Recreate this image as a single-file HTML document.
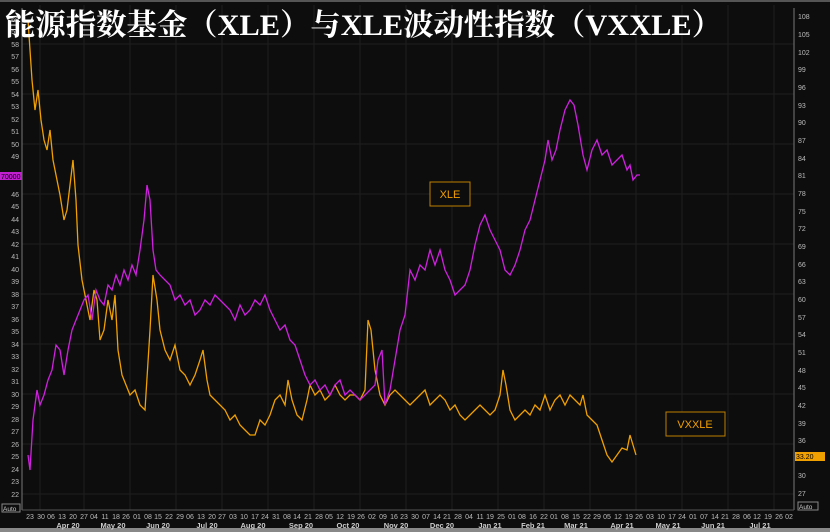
<!DOCTYPE html><html><head><meta charset="utf-8"><style>
body{margin:0;background:#0b0b0b;}
svg{display:block;font-family:"Liberation Sans",sans-serif;}
</style></head><body>
<svg width="830" height="532" xmlns="http://www.w3.org/2000/svg">
<rect width="830" height="532" fill="#0d0d0d"/>
<rect x="0" y="0" width="830" height="2" fill="#555"/>
<rect x="0" y="528" width="830" height="4" fill="#888"/>
<g stroke="#1f1f1f" stroke-width="1">
<line x1="22" y1="44" x2="794" y2="44"/><line x1="22" y1="94" x2="794" y2="94"/><line x1="22" y1="144" x2="794" y2="144"/><line x1="22" y1="194" x2="794" y2="194"/><line x1="22" y1="244" x2="794" y2="244"/><line x1="22" y1="294" x2="794" y2="294"/><line x1="22" y1="344" x2="794" y2="344"/><line x1="22" y1="394" x2="794" y2="394"/><line x1="22" y1="444" x2="794" y2="444"/><line x1="22" y1="494" x2="794" y2="494"/>
<line x1="40" y1="5" x2="40" y2="510"/><line x1="84" y1="5" x2="84" y2="510"/><line x1="130" y1="5" x2="130" y2="510"/><line x1="176" y1="5" x2="176" y2="510"/><line x1="222" y1="5" x2="222" y2="510"/><line x1="268" y1="5" x2="268" y2="510"/><line x1="314" y1="5" x2="314" y2="510"/><line x1="360" y1="5" x2="360" y2="510"/><line x1="406" y1="5" x2="406" y2="510"/><line x1="452" y1="5" x2="452" y2="510"/><line x1="498" y1="5" x2="498" y2="510"/><line x1="544" y1="5" x2="544" y2="510"/><line x1="590" y1="5" x2="590" y2="510"/><line x1="636" y1="5" x2="636" y2="510"/><line x1="682" y1="5" x2="682" y2="510"/><line x1="728" y1="5" x2="728" y2="510"/><line x1="774" y1="5" x2="774" y2="510"/>
</g>
<line x1="22" y1="8" x2="22" y2="510" stroke="#777"/>
<line x1="794" y1="8" x2="794" y2="510" stroke="#777"/>
<line x1="22" y1="510" x2="794" y2="510" stroke="#555"/>
<g fill="#bbb" font-size="7" text-anchor="end">
<text x="19" y="22">60</text><text x="19" y="34">59</text><text x="19" y="47">58</text><text x="19" y="59">57</text><text x="19" y="72">56</text><text x="19" y="84">55</text><text x="19" y="97">54</text><text x="19" y="109">53</text><text x="19" y="122">52</text><text x="19" y="134">51</text><text x="19" y="147">50</text><text x="19" y="159">49</text><text x="19" y="197">46</text><text x="19" y="209">45</text><text x="19" y="222">44</text><text x="19" y="234">43</text><text x="19" y="247">42</text><text x="19" y="259">41</text><text x="19" y="272">40</text><text x="19" y="284">39</text><text x="19" y="297">38</text><text x="19" y="309">37</text><text x="19" y="322">36</text><text x="19" y="334">35</text><text x="19" y="347">34</text><text x="19" y="359">33</text><text x="19" y="372">32</text><text x="19" y="384">31</text><text x="19" y="397">30</text><text x="19" y="409">29</text><text x="19" y="422">28</text><text x="19" y="434">27</text><text x="19" y="447">26</text><text x="19" y="459">25</text><text x="19" y="472">24</text><text x="19" y="484">23</text><text x="19" y="497">22</text>
</g>
<g fill="#bbb" font-size="7">
<text x="798" y="19">108</text><text x="798" y="37">105</text><text x="798" y="55">102</text><text x="798" y="72">99</text><text x="798" y="90">96</text><text x="798" y="108">93</text><text x="798" y="125">90</text><text x="798" y="143">87</text><text x="798" y="161">84</text><text x="798" y="178">81</text><text x="798" y="196">78</text><text x="798" y="214">75</text><text x="798" y="231">72</text><text x="798" y="249">69</text><text x="798" y="267">66</text><text x="798" y="284">63</text><text x="798" y="302">60</text><text x="798" y="320">57</text><text x="798" y="337">54</text><text x="798" y="355">51</text><text x="798" y="373">48</text><text x="798" y="390">45</text><text x="798" y="408">42</text><text x="798" y="426">39</text><text x="798" y="443">36</text><text x="798" y="478">30</text><text x="798" y="496">27</text>
</g>
<rect x="0" y="172" width="22" height="8" fill="#c020d0"/><text x="1" y="179" font-size="7" fill="#000">70000</text>
<rect x="795" y="452" width="30" height="9" fill="#f0a000"/><text x="796" y="459" font-size="7" fill="#000">33.20</text>
<rect x="2" y="504" width="18" height="8" fill="none" stroke="#888"/><text x="3" y="511" font-size="6.5" fill="#ccc">Auto</text>
<rect x="798" y="502" width="20" height="8" fill="none" stroke="#888"/><text x="799" y="509" font-size="6.5" fill="#ccc">Auto</text>
<g fill="#bbb" font-size="7" text-anchor="middle">
<text x="30" y="519">23</text><text x="41" y="519">30</text><text x="51" y="519">06</text><text x="62" y="519">13</text><text x="73" y="519">20</text><text x="84" y="519">27</text><text x="94" y="519">04</text><text x="105" y="519">11</text><text x="116" y="519">18</text><text x="126" y="519">26</text><text x="137" y="519">01</text><text x="148" y="519">08</text><text x="158" y="519">15</text><text x="169" y="519">22</text><text x="180" y="519">29</text><text x="190" y="519">06</text><text x="201" y="519">13</text><text x="212" y="519">20</text><text x="222" y="519">27</text><text x="233" y="519">03</text><text x="244" y="519">10</text><text x="255" y="519">17</text><text x="265" y="519">24</text><text x="276" y="519">31</text><text x="287" y="519">08</text><text x="297" y="519">14</text><text x="308" y="519">21</text><text x="319" y="519">28</text><text x="329" y="519">05</text><text x="340" y="519">12</text><text x="351" y="519">19</text><text x="361" y="519">26</text><text x="372" y="519">02</text><text x="383" y="519">09</text><text x="394" y="519">16</text><text x="404" y="519">23</text><text x="415" y="519">30</text><text x="426" y="519">07</text><text x="437" y="519">14</text><text x="447" y="519">21</text><text x="458" y="519">28</text><text x="469" y="519">04</text><text x="480" y="519">11</text><text x="490" y="519">19</text><text x="501" y="519">25</text><text x="512" y="519">01</text><text x="522" y="519">08</text><text x="533" y="519">16</text><text x="544" y="519">22</text><text x="554" y="519">01</text><text x="565" y="519">08</text><text x="576" y="519">15</text><text x="587" y="519">22</text><text x="597" y="519">29</text><text x="607" y="519">05</text><text x="618" y="519">12</text><text x="629" y="519">19</text><text x="639" y="519">26</text><text x="650" y="519">03</text><text x="661" y="519">10</text><text x="672" y="519">17</text><text x="682" y="519">24</text><text x="693" y="519">01</text><text x="704" y="519">07</text><text x="715" y="519">14</text><text x="725" y="519">21</text><text x="736" y="519">28</text><text x="747" y="519">06</text><text x="757" y="519">12</text><text x="768" y="519">19</text><text x="779" y="519">26</text><text x="789" y="519">02</text>
</g>
<g fill="#ccc" font-size="7.5" font-weight="bold" text-anchor="middle">
<text x="68" y="528">Apr 20</text><text x="113" y="528">May 20</text><text x="158" y="528">Jun 20</text><text x="207" y="528">Jul 20</text><text x="253" y="528">Aug 20</text><text x="301" y="528">Sep 20</text><text x="348" y="528">Oct 20</text><text x="396" y="528">Nov 20</text><text x="442" y="528">Dec 20</text><text x="490" y="528">Jan 21</text><text x="533" y="528">Feb 21</text><text x="576" y="528">Mar 21</text><text x="622" y="528">Apr 21</text><text x="668" y="528">May 21</text><text x="713" y="528">Jun 21</text><text x="760" y="528">Jul 21</text>
</g>
<polyline fill="none" stroke="#f0a000" stroke-width="1.3" points="28,20 32,80 35,110 38,90 41,120 44,140 47,150 50,130 53,160 56,175 60,195 64,220 67,210 70,185 73,160 76,200 78,245 82,280 86,300 90,320 94,290 97,300 100,340 104,330 108,300 112,320 115,295 118,350 122,375 126,385 130,395 135,390 140,405 145,410 150,330 153,275 157,300 160,330 165,350 170,360 175,345 180,370 185,375 190,385 195,375 200,360 203,350 207,380 210,395 215,400 220,405 225,410 230,420 235,415 240,425 245,430 250,435 255,435 260,420 265,425 270,415 275,400 280,395 285,405 288,380 292,400 297,415 302,420 307,400 310,385 315,395 320,390 325,400 330,395 335,385 340,395 345,400 350,395 355,395 360,400 365,390 368,320 371,330 375,370 380,395 385,405 390,395 395,390 400,395 405,400 410,405 415,400 420,395 425,390 430,405 435,400 440,395 445,400 450,410 455,405 460,415 465,420 470,415 475,410 480,405 485,410 490,415 495,410 500,395 503,370 506,385 510,410 515,420 520,415 525,410 530,415 535,405 540,410 545,395 550,410 555,400 560,395 565,405 570,395 575,400 580,405 583,395 587,415 592,420 597,425 602,440 607,455 612,462 617,455 622,448 627,450 630,435 633,445 636,455"/>
<polyline fill="none" stroke="#d020e0" stroke-width="1.3" points="28,455 30,470 33,420 37,390 40,405 44,395 48,380 52,370 56,345 60,350 64,375 68,350 72,330 76,320 80,310 84,300 88,295 92,320 96,290 100,300 104,305 108,285 112,290 116,275 120,285 124,270 128,280 132,265 136,275 140,250 144,220 147,185 150,200 153,250 156,270 160,275 165,280 170,285 175,300 180,295 185,305 190,300 195,315 200,310 205,300 210,305 215,295 220,300 225,305 230,310 235,320 240,305 245,315 250,310 255,300 260,305 265,295 270,310 275,320 280,330 285,325 290,340 295,345 300,360 305,375 310,385 315,380 320,390 325,385 330,395 335,385 340,380 345,395 350,390 355,395 360,400 365,395 370,390 375,385 378,360 382,350 385,405 390,390 395,360 400,330 405,315 410,270 415,280 420,265 425,270 430,250 435,265 440,250 445,270 450,280 455,295 460,290 465,285 470,270 475,245 480,225 485,215 490,230 495,240 500,250 505,270 510,275 515,265 520,250 525,230 530,220 535,200 540,180 545,160 548,140 552,160 556,150 560,130 565,110 570,100 574,105 578,125 583,155 587,170 592,150 597,140 602,155 607,150 612,165 617,160 622,155 627,170 630,165 633,180 637,175 640,175"/>
<rect x="430" y="182" width="40" height="24" fill="#0d0d0d" stroke="#c08000"/><text x="450" y="198" font-size="11" fill="#f0a000" text-anchor="middle">XLE</text>
<rect x="666" y="412" width="59" height="24" fill="#0d0d0d" stroke="#c08000"/><text x="695" y="428" font-size="11" fill="#f0a000" text-anchor="middle">VXXLE</text>
<text x="5" y="35" font-family="'Liberation Serif','Noto Serif CJK SC',serif" font-size="30" font-weight="bold" fill="#fff" textLength="717" lengthAdjust="spacingAndGlyphs">能源指数基金（XLE）与XLE波动性指数（VXXLE）</text>
</svg>
</body></html>
